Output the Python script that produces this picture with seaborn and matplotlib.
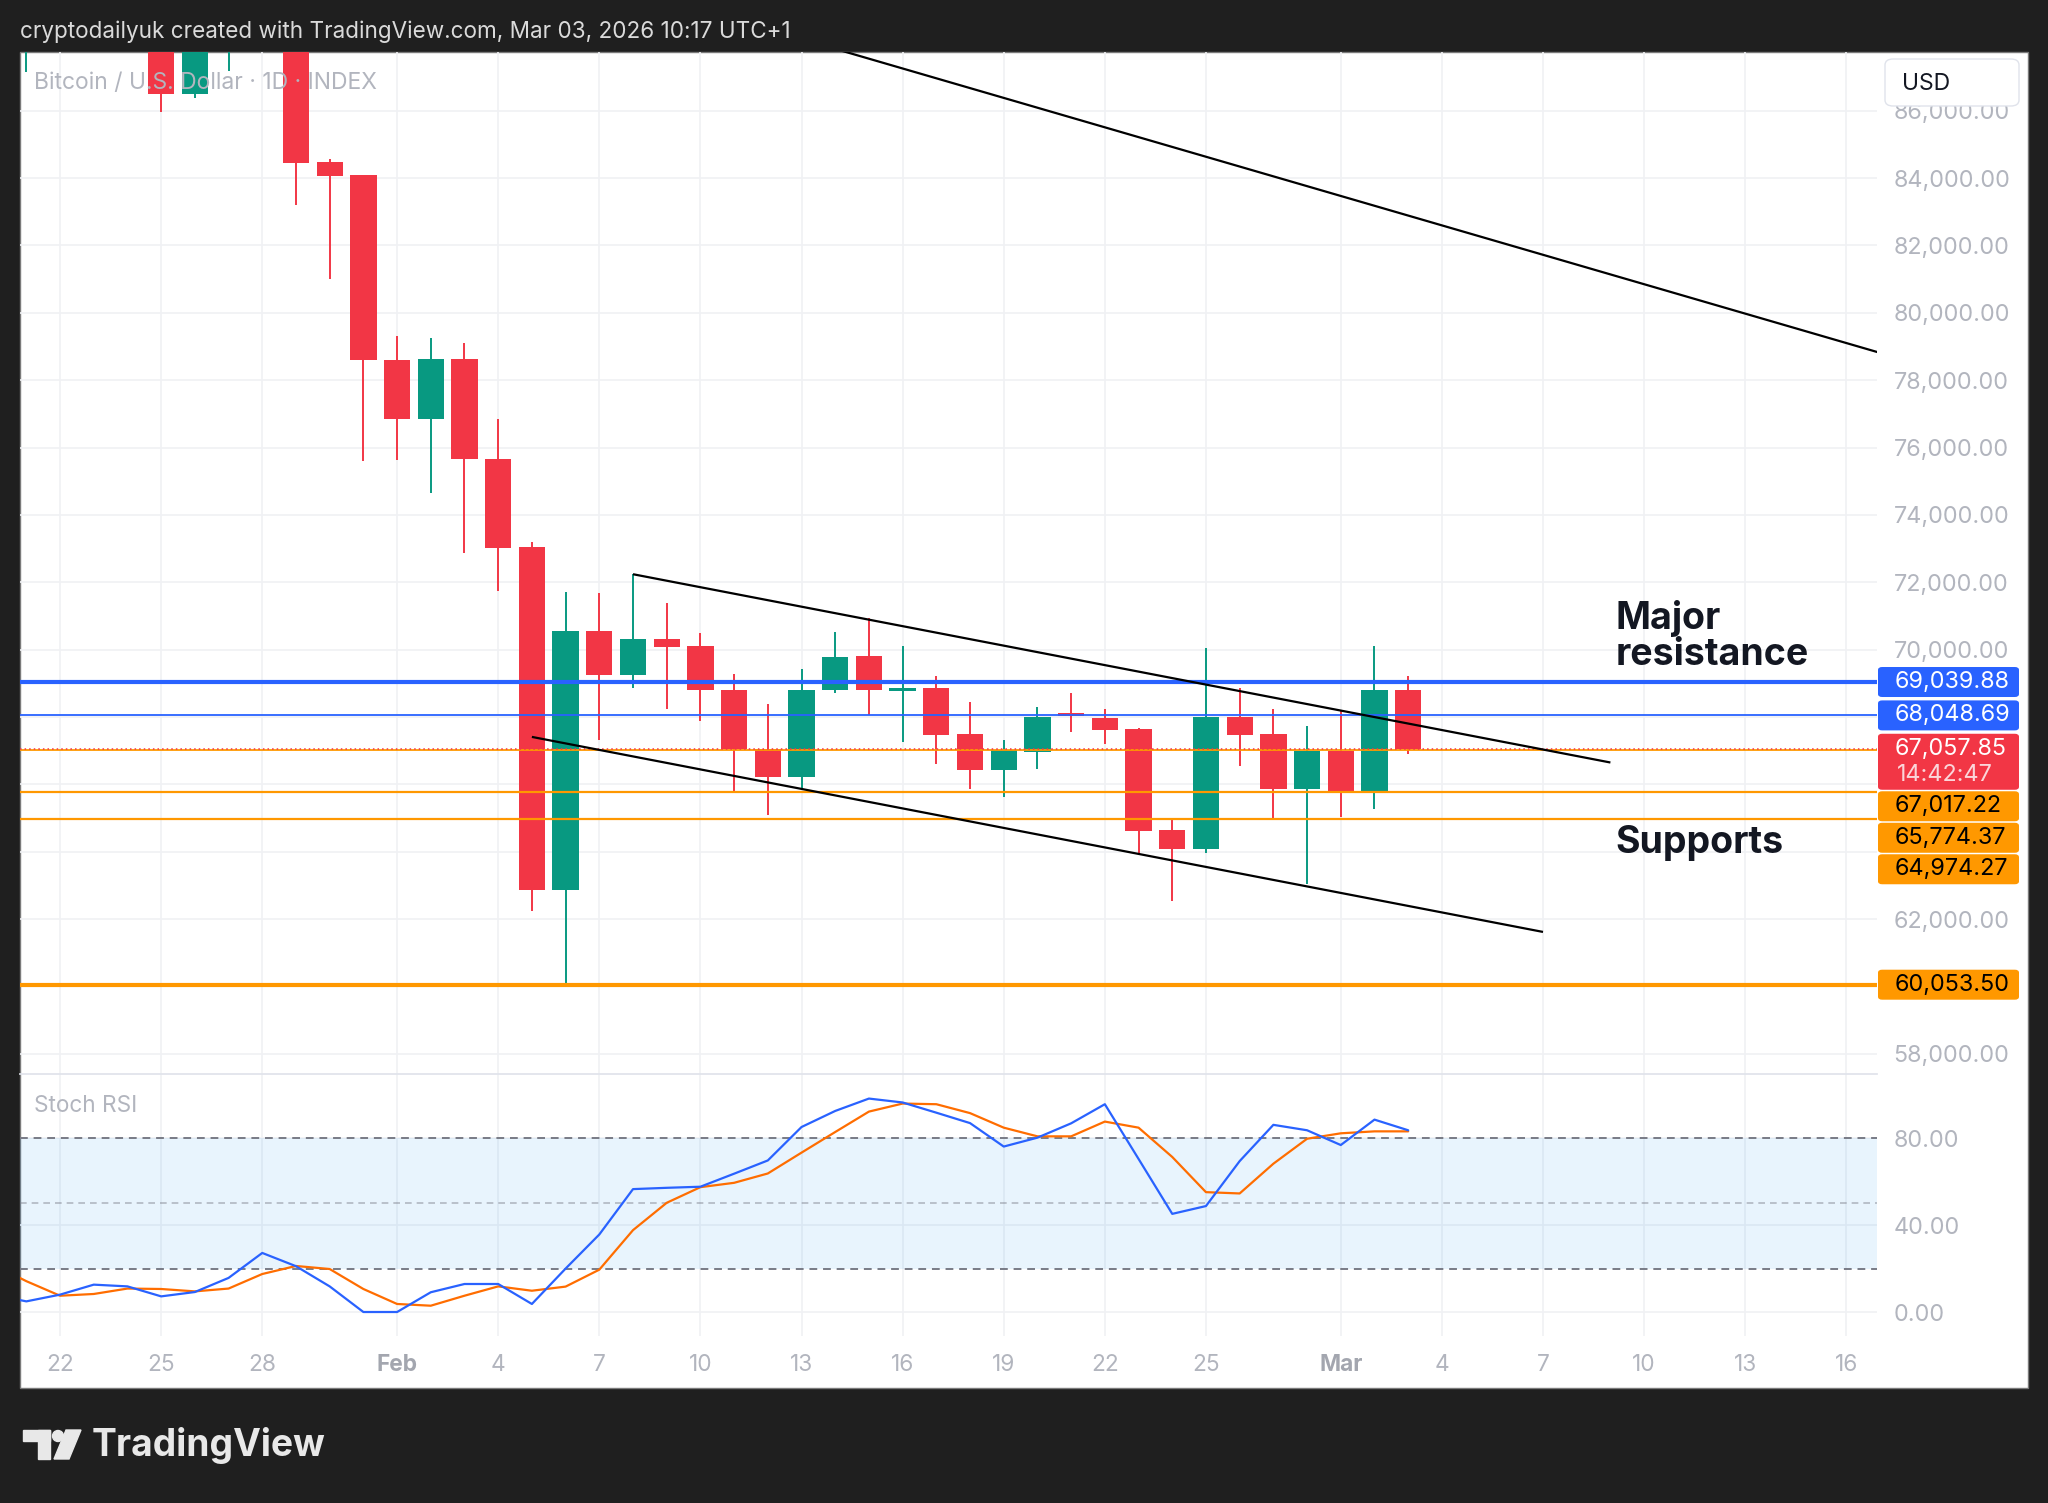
import matplotlib
matplotlib.use("Agg")
import matplotlib.pyplot as plt
import matplotlib.dates as mdates
import matplotlib.patches as mpatches
import seaborn as sns
import pandas as pd
import numpy as np

sns.set_theme(style="white")
plt.rcParams['font.family'] = ['Inter', 'DejaVu Sans']

# ---- daily candles (BTC/USD, 1D) ----
dates = pd.date_range("2026-01-21", "2026-03-03", freq="D")
opens = [88300, 89500, 89400, 89600, 89300, 86490, 88200, 89100, 89200, 84480,
         84080, 78610, 76850, 78640, 75660, 73040, 62850, 70540, 69250, 70310,
         70110, 68800, 67060, 66230, 68790, 69800, 68770, 68870, 67490, 66430,
         66970, 68040, 67960, 67640, 64650, 64070, 67990, 67490, 65860, 66990,
         65800, 68800]
highs = [90200, 90300, 91000, 89900, 89500, 88500, 89400, 90500, 89300, 84570,
         84100, 79320, 79260, 79090, 76850, 73200, 71720, 71670, 72240, 71400,
         70490, 69270, 68390, 69440, 70530, 70950, 70110, 69220, 68450, 67320,
         68310, 68700, 68230, 67660, 64940, 70040, 68850, 68230, 67730, 68210,
         70110, 69230]
lows = [87140, 88500, 88600, 88900, 85970, 86390, 87170, 88300, 83190, 81000,
        75590, 75620, 74640, 72870, 71740, 62250, 60060, 67320, 68870, 68250,
        67880, 65780, 65090, 65880, 68700, 68070, 67270, 66600, 65860, 65640,
        66450, 67550, 67190, 63900, 62540, 63950, 66550, 65010, 63040, 65040,
        65270, 66890]
closes = [89500, 89400, 89600, 89300, 86490, 88200, 89100, 89200, 84460, 84070,
          78610, 76850, 78640, 75650, 73020, 62850, 70560, 69250, 70310, 70090,
          68790, 67040, 66230, 68800, 69770, 68790, 68870, 67480, 66430, 67020,
          67990, 67990, 67620, 64630, 64070, 67990, 67470, 65860, 66990, 65800,
          68800, 67057.85]

# ---- Stoch RSI ----
rsi_dates = pd.date_range("2026-01-20", "2026-03-03", freq="D")
stoch_k = [8, 4.9, 8.0, 12.6, 11.8, 7.2, 9.2, 15.7, 27.2, 21.1, 11.8, 0, 0, 9.1,
           12.9, 12.9, 3.7, 20.0, 35.7, 56.6, 57.2, 57.7, 63.7, 69.8, 85.2, 92.6,
           98.3, 96.5, 91.8, 87.0, 76.2, 80.3, 86.9, 95.7, 70.5, 45.2, 48.8, 69.5,
           86.2, 83.7, 76.9, 88.6, 83.7]
stoch_d = [22, 14.2, 7.5, 8.3, 10.8, 10.6, 9.5, 10.8, 17.5, 21.2, 19.8, 10.6, 3.7,
           2.9, 7.5, 11.8, 9.8, 11.7, 19.5, 37.7, 50.3, 57.5, 59.5, 63.8, 73.4,
           82.9, 92.3, 96.0, 95.7, 91.6, 84.9, 80.9, 80.9, 87.7, 84.9, 71.4, 55.2,
           54.6, 68.3, 79.8, 82.3, 83.2, 83.2]

# ---- drawn levels and trend lines ----
resistance_levels = [69039.88, 68048.69]
support_levels = [67017.22, 65774.37, 64974.27, 60053.50]
last_price = 67057.85
countdown = "14:42:47"
long_trend_dates = ["2026-02-11", "2026-03-19"]
long_trend_prices = [88710, 78230]
channel_top_dates = ["2026-02-08", "2026-03-09"]
channel_top_prices = [72240, 66650]
channel_bot_dates = ["2026-02-05", "2026-03-07"]
channel_bot_prices = [67410, 61620]

tick_dates = ["2026-01-22", "2026-01-25", "2026-01-28", "2026-02-01", "2026-02-04",
              "2026-02-07", "2026-02-10", "2026-02-13", "2026-02-16", "2026-02-19",
              "2026-02-22", "2026-02-25", "2026-03-01", "2026-03-04", "2026-03-07",
              "2026-03-10", "2026-03-13", "2026-03-16"]
tick_labels = ["22", "25", "28", "Feb", "4", "7", "10", "13", "16", "19", "22", "25",
               "Mar", "4", "7", "10", "13", "16"]

RED = "#F23645"
GREEN = "#089981"
BLUE = "#2962FF"
ORANGE = "#FF9800"
GREY = "#B2B5BE"
GRID = "#F0F1F4"
BG = "#1F1F1F"
FS = 16.8

W, H = 2048, 1503
fig = plt.figure(figsize=(W / 100, H / 100), dpi=100, facecolor=BG)

# white chart panel
fig.patches.append(mpatches.Rectangle((19.6 / W, 115.4 / H), 2008 / W, 1335.4 / H,
                                      transform=fig.transFigure, facecolor="white",
                                      edgecolor="#7a7a7a", lw=1, zorder=-5))

ax = fig.add_axes([19.6 / W, 429.4 / H, 1857.4 / W, 1021.4 / H])
rax = fig.add_axes([19.6 / W, 167 / H, 1857.4 / W, 262.4 / H], sharex=ax)
for a in (ax, rax):
    a.set_facecolor("none")
    for s in a.spines.values():
        s.set_visible(False)
rax.spines["top"].set_visible(True)
rax.spines["top"].set_color("#E0E3EB")

x0 = mdates.date2num(pd.Timestamp("2026-01-22"))
ax.set_xlim(x0 - 1.2, x0 + 53.91)
ax.set_ylim(57414, 87738)
rax.set_ylim(-11.05, 109.8)

# grid
tick_x = mdates.date2num(pd.to_datetime(tick_dates))
for a in (ax, rax):
    a.set_xticks(tick_x)
    a.grid(True, color=GRID, lw=1.2)
    a.set_axisbelow(True)
price_ticks = np.arange(58000, 86001, 2000)
ax.set_yticks(price_ticks)
rax.set_yticks([0, 40, 80])
rax.set_yticklabels(["0.00", "40.00", "80.00"])
for a in (ax, rax):
    a.yaxis.tick_right()
    a.tick_params(axis="y", length=0, pad=12, labelsize=FS, labelcolor=GREY)
ax.tick_params(axis="x", length=0, labelbottom=False)
rax.set_xticklabels(tick_labels)
rax.tick_params(axis="x", length=0, pad=13, labelsize=16.3, labelcolor=GREY)
for lbl in rax.get_xticklabels():
    if lbl.get_text() in ("Feb", "Mar"):
        lbl.set_fontweight("bold")
        lbl.set_color("#A3A6AF")

# candles
cx = mdates.date2num(dates)
o = np.array(opens, dtype=float)
c = np.array(closes, dtype=float)
cols = [GREEN if cc >= oo else RED for oo, cc in zip(o, c)]
ax.vlines(cx, lows, highs, colors=cols, lw=1.4, zorder=3)
body = np.where(np.abs(c - o) < 90, 90, c - o)
ax.bar(cx, body, bottom=o, width=0.78, color=cols, linewidth=0, zorder=3)

# horizontal levels
ax.axhline(resistance_levels[0], color=BLUE, lw=3.0, zorder=5)
ax.axhline(resistance_levels[1], color=BLUE, lw=1.3, zorder=5)
ax.axhline(support_levels[0], color=ORANGE, lw=1.3, zorder=5)
ax.axhline(last_price, color=RED, lw=1.1, ls=(0, (1, 2)), zorder=6)
ax.axhline(support_levels[1], color=ORANGE, lw=1.6, zorder=5)
ax.axhline(support_levels[2], color=ORANGE, lw=1.6, zorder=5)
ax.axhline(support_levels[3], color=ORANGE, lw=3.0, zorder=5)

# trend lines
for dts, prs in ((long_trend_dates, long_trend_prices),
                 (channel_top_dates, channel_top_prices),
                 (channel_bot_dates, channel_bot_prices)):
    ax.plot(mdates.date2num(pd.to_datetime(dts)), prs, color="black", lw=1.6,
            zorder=6, solid_capstyle="butt")

# annotations
ax.text(x0 + 46.16, 70400, "Major\nresistance", fontsize=27, fontweight="bold",
        color="#131722", ha="left", va="center", linespacing=1.0, zorder=7)
ax.text(x0 + 46.16, 64250, "Supports", fontsize=27, fontweight="bold",
        color="#131722", ha="left", va="center", zorder=7)
ax.text(0.0077, 0.97, "Bitcoin / U.S. Dollar \u00b7 1D \u00b7 INDEX", transform=ax.transAxes,
        fontsize=16.5, color=GREY, ha="left", va="center", zorder=8)

# Stoch RSI panel
rx = mdates.date2num(rsi_dates)
rax.axhspan(20, 80, color="#2196F3", alpha=0.1, lw=0, zorder=1)
rax.axhline(80, color="#787B86", lw=1.4, ls=(0, (4, 3)), zorder=2)
rax.axhline(50, color="#787B86", lw=1.2, ls=(0, (4, 3)), alpha=0.5, zorder=2)
rax.axhline(20, color="#787B86", lw=1.4, ls=(0, (4, 3)), zorder=2)
sns.lineplot(x=rx, y=stoch_k, ax=rax, color=BLUE, lw=1.6, zorder=4)
sns.lineplot(x=rx, y=stoch_d, ax=rax, color="#FF6D00", lw=1.6, zorder=3)
rax.set_xlim(x0 - 1.2, x0 + 53.91)
rax.text(0.0077, 0.877, "Stoch RSI", transform=rax.transAxes, fontsize=16.3,
         color=GREY, ha="left", va="center")

# right-hand price labels, stacked to avoid overlap
def px_from_top(v):
    return H - ax.transData.transform((x0, v))[1]

labels = [(resistance_levels[0], BLUE, "white", False),
          (resistance_levels[1], BLUE, "white", False),
          (last_price, RED, "white", True),
          (support_levels[0], ORANGE, "black", False),
          (support_levels[1], ORANGE, "black", False),
          (support_levels[2], ORANGE, "black", False),
          (support_levels[3], ORANGE, "black", False)]
prev_bottom = -1e9
spans = []
for val, fc, tc, two_line in labels:
    cy = px_from_top(val)
    top = max(cy - 15, prev_bottom + 1.5)
    h = 56 if two_line else 30
    fig.patches.append(mpatches.FancyBboxPatch(
        (1878 / W, (H - top - h) / H), 141 / W, h / H,
        boxstyle="round,pad=0,rounding_size=0.002", transform=fig.transFigure,
        facecolor=fc, edgecolor="none", zorder=10))
    fig.text(1895 / W, (H - top - 15) / H, f"{val:,.2f}", fontsize=FS, color=tc,
             ha="left", va="center", zorder=11)
    if two_line:
        fig.text(1897 / W, (H - top - 41) / H, countdown, fontsize=FS,
                 color="#FBD5D9", ha="left", va="center", zorder=11)
    spans.append((top, top + h))
    prev_bottom = top + h

# scale labels hidden behind the level boxes are not shown
tick_text = []
for v in price_ticks:
    py = px_from_top(v)
    covered = any(t - 9 <= py <= b + 9 for t, b in spans)
    tick_text.append("" if covered else f"{v:,.2f}")
ax.set_yticklabels(tick_text)

# USD box
fig.patches.append(mpatches.FancyBboxPatch(
    (1885 / W, (H - 106) / H), 134 / W, 47 / H,
    boxstyle="round,pad=0,rounding_size=0.004", transform=fig.transFigure,
    facecolor="white", edgecolor="#E0E3EB", lw=1, zorder=10))
fig.text(1902 / W, (H - 84) / H, "USD", fontsize=16.5, color="#131722",
         ha="left", va="center", zorder=11)

# header and footer
fig.text(19.6 / W, (H - 31.5) / H,
         "cryptodailyuk created with TradingView.com, Mar 03, 2026 10:17 UTC+1",
         fontsize=16.2, color="#DADADA", ha="left", va="center")
logo_c = "#E8E8E8"
fig.patches.append(mpatches.Rectangle((23 / W, (H - 1441) / H), 27 / W, 11 / H,
                                      transform=fig.transFigure, color=logo_c))
fig.patches.append(mpatches.Rectangle((38 / W, (H - 1459) / H), 12 / W, 29 / H,
                                      transform=fig.transFigure, color=logo_c))
fig.patches.append(mpatches.Ellipse((58 / W, (H - 1436) / H), 11 / W, 11 / H,
                                    transform=fig.transFigure, color=logo_c))
fig.patches.append(mpatches.Polygon([(66 / W, (H - 1430) / H), (81 / W, (H - 1430) / H),
                                     (69 / W, (H - 1459) / H), (54 / W, (H - 1459) / H)],
                                    closed=True, transform=fig.transFigure, color=logo_c))
fig.text(92 / W, (H - 1446) / H, "TradingView", fontsize=26.8, fontweight="bold",
         color=logo_c, ha="left", va="center")

fig.savefig("out.png", dpi=100, facecolor=BG)
